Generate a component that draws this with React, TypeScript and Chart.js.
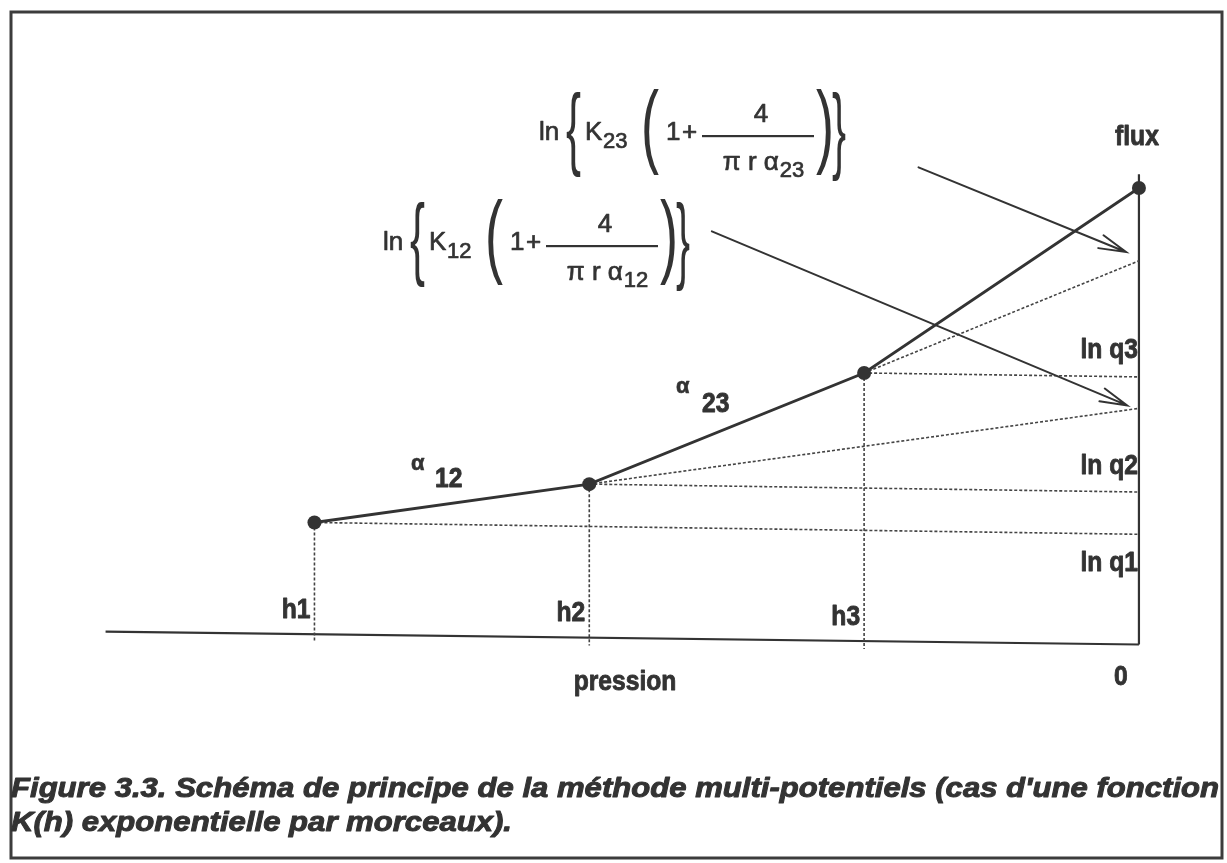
import React, { useEffect, useRef } from 'react';
import { Chart, registerables } from 'chart.js';

Chart.register(...registerables);

// ---- data (schematic values) ----
const pressureLabels = ['h1', 'h2', 'h3'];
const pressure = [-3, -2, -1, 0];            // h1, h2, h3, 0
const lnFlux = [1.16, 1.55, 2.68, 4.56];     // ln q at each pressure node
const levelAtAxis = [1.04, 1.47, 2.64];      // horizontal dotted levels where they reach the flux axis
const extensionAtAxis = [2.32, 3.82];        // α12 (from h2) and α23 (from h3) extensions at h = 0
const fluxLabels = ['ln q1', 'ln q2', 'ln q3'];
const slopeSubs = ['12', '23'];
const arrowFrom = [
  { x: -1.554, y: 4.12 },
  { x: -0.802, y: 4.77 },
];
const arrowTo = [
  { x: -0.043, y: 2.35 },
  { x: -0.047, y: 3.91 },
];
const pressureAxis = [
  { x: -3.76, y: 0.05 },
  { x: 0, y: -0.08 },
];
const fluxAxisTop = 4.7;

const INK = '#333333';
const DOT = '#444444';
const FAM = '"Liberation Sans", Arial, Helvetica, sans-serif';

function axisYAt(x: number) {
  const a = pressureAxis[0], b = pressureAxis[1];
  return a.y + ((x - a.x) * (b.y - a.y)) / (b.x - a.x);
}

function txt(ctx: CanvasRenderingContext2D, s: string, x: number, y: number, font: string, align: CanvasTextAlign = 'left', sx = 1, stroke = 0) {
  ctx.save();
  ctx.font = font;
  ctx.textAlign = align;
  ctx.textBaseline = 'alphabetic';
  ctx.translate(x, y);
  ctx.scale(sx, 1);
  ctx.fillText(s, 0, 0);
  if (stroke > 0) {
    ctx.lineWidth = stroke;
    ctx.lineJoin = 'round';
    ctx.strokeText(s, 0, 0);
  }
  ctx.restore();
}

function tall(ctx: CanvasRenderingContext2D, ch: string, xLeft: number, yTop: number, yBot: number, w: number) {
  ctx.save();
  ctx.font = `36px ${FAM}`;
  const m = ctx.measureText(ch);
  const asc = m.actualBoundingBoxAscent;
  const desc = m.actualBoundingBoxDescent;
  const gw = m.actualBoundingBoxLeft + m.actualBoundingBoxRight;
  const sy = (yBot - yTop) / (asc + desc);
  const sx = Math.min(1.6, w / gw);
  ctx.translate(xLeft, yTop + asc * sy);
  ctx.scale(sx, sy);
  ctx.textAlign = 'left';
  ctx.textBaseline = 'alphabetic';
  ctx.fillText(ch, m.actualBoundingBoxLeft, 0);
  ctx.restore();
}

function formula(ctx: CanvasRenderingContext2D, x: number, y: number, sub: string) {
  const main = `26px ${FAM}`;
  const small = `22px ${FAM}`;
  const st = 0.7;
  txt(ctx, 'ln', x, y, main, 'left', 1, st);
  tall(ctx, '{', x + 27, y - 50, y + 38, 15);
  txt(ctx, 'K', x + 46, y, main, 'left', 1, st);
  txt(ctx, sub, x + 64, y + 8, small, 'left', 1, st);
  tall(ctx, '(', x + 105, y - 53, y + 37, 15);
  txt(ctx, '1', x + 127, y, main, 'left', 1, st);
  txt(ctx, '+', x + 143, y, main, 'left', 1, st);
  ctx.fillRect(x + 163, y - 5, 112, 2.2);
  txt(ctx, '4', x + 222, y - 18, main, 'center', 1, st);
  // denominator
  ctx.save();
  ctx.font = main;
  const w1 = ctx.measureText('\u03c0 r \u03b1').width;
  ctx.font = small;
  const w2 = ctx.measureText(sub).width;
  ctx.restore();
  const start = x + 224 - (w1 + w2) / 2;
  txt(ctx, '\u03c0 r \u03b1', start, y + 30, main, 'left', 1, st);
  txt(ctx, sub, start + w1 + 1, y + 37, small, 'left', 1, st);
  tall(ctx, ')', x + 277, y - 53, y + 37, 15);
  tall(ctx, '}', x + 293, y - 50, y + 42, 14);
}

const paperPlugin = {
  id: 'paper',
  beforeDraw(chart: any) {
    const ctx = chart.ctx as CanvasRenderingContext2D;
    ctx.save();
    ctx.fillStyle = '#ffffff';
    ctx.fillRect(0, 0, chart.width, chart.height);
    ctx.strokeStyle = '#3c3c3c';
    ctx.lineWidth = 3;
    ctx.strokeRect(11, 12, 1211, 846);
    ctx.restore();
  },
  afterDraw(chart: any) {
    const ctx = chart.ctx as CanvasRenderingContext2D;
    const xs = chart.scales.x;
    const ys = chart.scales.y;
    ctx.save();
    ctx.strokeStyle = INK;
    ctx.fillStyle = INK;
    ctx.lineWidth = 2;
    ctx.lineCap = 'round';
    // arrows
    for (let i = 0; i < arrowFrom.length; i++) {
      const x0 = xs.getPixelForValue(arrowFrom[i].x);
      const y0 = ys.getPixelForValue(arrowFrom[i].y);
      const x1 = xs.getPixelForValue(arrowTo[i].x);
      const y1 = ys.getPixelForValue(arrowTo[i].y);
      const ang = Math.atan2(y1 - y0, x1 - x0);
      ctx.beginPath();
      ctx.moveTo(x0, y0);
      ctx.lineTo(x1, y1);
      const L = 28, s = 0.25;
      ctx.moveTo(x1 - L * Math.cos(ang - s), y1 - L * Math.sin(ang - s));
      ctx.lineTo(x1, y1);
      ctx.lineTo(x1 - L * Math.cos(ang + s), y1 - L * Math.sin(ang + s));
      ctx.stroke();
    }

    const bold = `bold 28px ${FAM}`;
    const SX = 0.88;
    const BS = 0.9;
    const x0px = xs.getPixelForValue(0);
    // flux axis labels
    txt(ctx, 'flux', x0px - 2, 145, bold, 'center', SX, BS);
    const qBase = [571, 474, 358];
    fluxLabels.forEach((l, i) => txt(ctx, l, x0px - 1, qBase[i], bold, 'right', SX, BS));
    // pressure labels
    const hBase = [618, 621, 625];
    pressureLabels.forEach((l, i) => txt(ctx, l, xs.getPixelForValue(pressure[i]) - 4, hBase[i], bold, 'right', SX, BS));
    txt(ctx, 'pression', 625, 690, bold, 'center', SX, BS);
    txt(ctx, '0', x0px - 18, 685, bold, 'center', SX, BS);
    // slope labels
    txt(ctx, '\u03b1', 411, 470, `bold 22px ${FAM}`, 'left', 1, 0.6);
    txt(ctx, slopeSubs[0], 435, 487, bold, 'left', SX, BS);
    txt(ctx, '\u03b1', 676, 393, `bold 22px ${FAM}`, 'left', 1, 0.6);
    txt(ctx, slopeSubs[1], 702, 412, bold, 'left', SX, BS);

    // formulas
    formula(ctx, 539, 140, '23');
    formula(ctx, 383, 250, '12');

    // caption
    const cap = `italic bold 28px ${FAM}`;
    const line1 = "Figure 3.3. Sch\u00e9ma de principe de la m\u00e9thode multi-potentiels (cas d'une fonction";
    const line2 = 'K(h) exponentielle par morceaux).';
    ctx.font = cap;
    const w = ctx.measureText(line1).width;
    const csx = 1208 / w;
    txt(ctx, line1, 11, 797, cap, 'left', csx, 1);
    txt(ctx, line2, 11, 831, cap, 'left', csx, 1);
    ctx.restore();
  },
};

export default function App() {
  const ref = useRef<HTMLCanvasElement>(null);
  useEffect(() => {
    document.body.style.margin = '0';
    const dotted = { borderColor: DOT, borderWidth: 1.6, borderDash: [3, 2], pointRadius: 0, showLine: true, fill: false };
    const datasets: any[] = [];
    datasets.push({
      label: 'K(h)',
      data: pressure.map((x, i) => ({ x, y: lnFlux[i] })),
      borderColor: INK,
      borderWidth: 2.8,
      pointRadius: 7,
      pointBackgroundColor: INK,
      pointBorderWidth: 0,
      showLine: true,
      fill: false,
    });
    for (let i = 0; i < 3; i++) {
      datasets.push({ ...dotted, data: [{ x: pressure[i], y: lnFlux[i] }, { x: 0, y: levelAtAxis[i] }] });
      datasets.push({ ...dotted, data: [{ x: pressure[i], y: lnFlux[i] }, { x: pressure[i], y: axisYAt(pressure[i]) - 0.08 }] });
    }
    datasets.push({ ...dotted, data: [{ x: pressure[1], y: lnFlux[1] }, { x: 0, y: extensionAtAxis[0] }] });
    datasets.push({ ...dotted, data: [{ x: pressure[2], y: lnFlux[2] }, { x: 0, y: extensionAtAxis[1] }] });
    datasets.push({ borderColor: INK, borderWidth: 2.2, pointRadius: 0, showLine: true, fill: false, data: pressureAxis });
    datasets.push({ borderColor: INK, borderWidth: 2.2, pointRadius: 0, showLine: true, fill: false, data: [{ x: 0, y: pressureAxis[1].y }, { x: 0, y: fluxAxisTop }] });

    const chart = new Chart(ref.current!, {
      type: 'scatter',
      data: { datasets },
      options: {
        responsive: false,
        animation: false,
        devicePixelRatio: 1,
        events: [],
        layout: { padding: 0 },
        plugins: { legend: { display: false }, tooltip: { enabled: false } },
        scales: {
          x: { type: 'linear', display: false, min: -1145 / 278, max: 82 / 278 },
          y: { type: 'linear', display: false, min: -2.23, max: 6.4 },
        },
      } as any,
      plugins: [paperPlugin],
    });
    return () => chart.destroy();
  }, []);
  return (
    <div style={{ position: 'absolute', left: 0, top: 0, width: 1227, height: 863 }}>
      <canvas ref={ref} width={1227} height={863} style={{ display: 'block' }} />
    </div>
  );
}
